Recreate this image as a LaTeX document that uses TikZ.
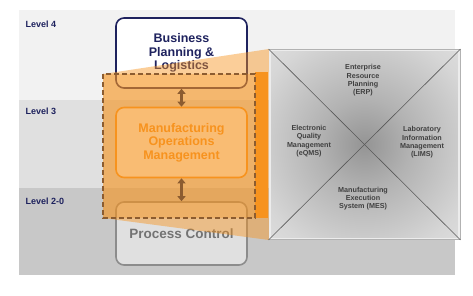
\documentclass[tikz,border=0pt]{standalone}
\usepackage{fontspec}
\setmainfont{Liberation Sans}
\usepackage{tikz}
\usetikzlibrary{calc, positioning, arrows.meta}

\definecolor{navy}{RGB}{30,34,94}
\definecolor{mesorange}{RGB}{247,147,30}
\definecolor{arrowbrown}{RGB}{140,92,48}
\definecolor{bandtop}{RGB}{242,242,242}
\definecolor{bandmid}{RGB}{224,224,224}
\definecolor{bandlow}{RGB}{200,200,200}

% weicher Verlauf im Quadrat
\pgfdeclareradialshading{msqshade}{\pgfpoint{0bp}{0bp}}{%
    color(0bp)=(black!42); color(12bp)=(black!30); color(30bp)=(black!16);
    color(50bp)=(black!7); color(72bp)=(black!2); color(100bp)=(black!2)}

\begin{document}
\begin{tikzpicture}[x=1pt, y=-1pt,
    levellabel/.style={anchor=west, text=navy, font=\fontsize{9}{10}\selectfont\bfseries},
    levelbox/.style={rounded corners=8pt, line width=1.6pt, minimum width=131pt, minimum height=70pt,
        align=center, inner sep=0pt, font=\fontsize{12.5}{13.5}\selectfont\bfseries},
    syslabel/.style={align=center, text=black!75, font=\fontsize{7.2}{8.3}\selectfont\bfseries},
    linkarrow/.style={{Triangle[width=8pt,length=5pt]}-{Triangle[width=8pt,length=5pt]}, line width=2.8pt, draw=arrowbrown}]
    \useasboundingbox (0,0) rectangle (473,295);

    % Bänder der Ebenen
    \fill[bandtop] (19,10) rectangle (455,100);
    \fill[bandmid] (19,100) rectangle (455,188);
    \fill[bandlow] (19,188) rectangle (455,275);
    \node[levellabel] (lvfour) at (22,24) {Level 4};
    \node[levellabel] (lvthree) at (22,111) {Level 3};
    \node[levellabel] (lvtwo) at (22,201) {Level 2-0};

    % Kästen der Ebenen
    \node[levelbox, draw=navy, fill=white, text=navy] (bpl) at (181.5,53) {Business\\Planning \&\\Logistics};
    \node[levelbox, draw=mesorange, fill=white, text=mesorange] (mom) at (181.5,142.5) {Manufacturing\\Operations\\Management};
    \node[levelbox, draw=gray!90, fill=black!12, text=black!55, minimum height=63pt,
        font=\fontsize{13.5}{14}\selectfont\bfseries] (pc) at (181.5,233.5) {Process Control};

    % Fächer und Auswahl
    \coordinate (selnw) at (103,74);
    \coordinate (selse) at (255,218);
    \fill[mesorange, opacity=0.45] (selnw) -- (269,49) -- (269,240) -- (103,218) -- cycle;
    \fill[mesorange, opacity=0.3] (selnw) rectangle (selse);
    \fill[mesorange] (255,72) rectangle (268,218);
    \draw[arrowbrown, line width=1.3pt, dash pattern=on 5pt off 3pt] (selnw) rectangle (selse);

    % Pfeile
    \draw[linkarrow] (bpl.south) -- (mom.north);
    \draw[linkarrow] (mom.south) -- (pc.north);

    % MES-Quadrat
    \node[minimum width=191pt, minimum height=190pt, inner sep=0pt, shading=msqshade,
        draw=gray!60, line width=0.8pt] (msq) at (364.5,144.5) {};
    \draw[white!85!gray, line width=1.4pt] ($(msq.north west)+(1.5,1.5)$) rectangle ($(msq.south east)+(-1.5,-1.5)$);
    \draw[black!65, line width=0.6pt] (msq.north west) -- (msq.south east);
    \draw[black!65, line width=0.6pt] (msq.south west) -- (msq.north east);

    \node[syslabel] (erp) at (363,80.5) {Enterprise\\Resource\\Planning\\(ERP)};
    \node[syslabel] (eqms) at (309,141) {Electronic\\Quality\\Management\\(eQMS)};
    \node[syslabel] (lims) at (422,142.5) {Laboratory\\Information\\Management\\(LIMS)};
    \node[syslabel] (mes) at (363,198.5) {Manufacturing\\Execution\\System (MES)};
\end{tikzpicture}
\end{document}
